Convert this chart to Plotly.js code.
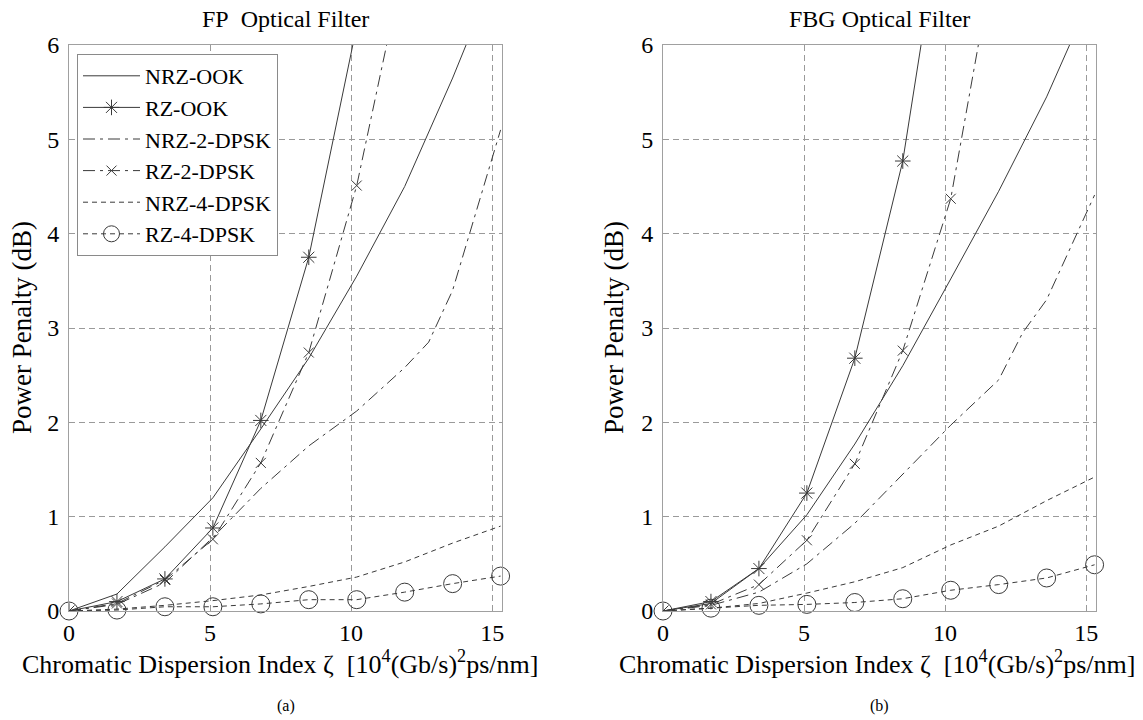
<!DOCTYPE html>
<html>
<head>
<meta charset="utf-8">
<script src="https://cdn.plot.ly/plotly-3.0.1.min.js"></script>
<style>
html,body{margin:0;padding:0;background:#fff;}
#chart{width:1143px;height:720px;}
</style>
</head>
<body>
<div id="chart"></div>
<script>
// ---- data ----
const seriesNames = ["NRZ-OOK", "RZ-OOK", "NRZ-2-DPSK", "RZ-2-DPSK", "NRZ-4-DPSK", "RZ-4-DPSK"];
const xFull = [0, 1.7, 3.4, 5.1, 6.8, 8.5, 10.2, 11.9, 13.6, 15.3];
const xRzOok = [0, 1.7, 3.4, 5.1, 6.8, 8.5, 10.2];
const xRz2 = [0, 1.7, 3.4, 5.1, 6.8, 8.5, 10.2, 11.9];
const xNrz2 = [0, 1.7, 3.4, 5.1, 6.8, 8.5, 10.2, 11.9, 12.75, 13.6, 15.3];

// (a) FP optical filter
const fpNrzOok   = [0, 0.18, 0.68, 1.2, 1.93, 2.68, 3.55, 4.5, 5.65, 6.9];
const fpRzOok    = [0, 0.1, 0.34, 0.88, 2.02, 3.75, 6.2];
const fpNrz2Dpsk = [0, 0.07, 0.3, 0.78, 1.3, 1.75, 2.12, 2.58, 2.85, 3.4, 5.1];
const fpRz2Dpsk  = [0, 0.08, 0.33, 0.76, 1.57, 2.74, 4.51, 6.9];
const fpNrz4Dpsk = [0, 0.02, 0.06, 0.11, 0.17, 0.26, 0.36, 0.52, 0.72, 0.9];
const fpRz4Dpsk  = [0, 0.01, 0.045, 0.045, 0.075, 0.12, 0.12, 0.2, 0.29, 0.37];

// (b) FBG optical filter
const fbgNrzOok   = [0, 0.08, 0.45, 1.02, 1.77, 2.6, 3.52, 4.45, 5.45, 6.6];
const fbgRzOok    = [0, 0.1, 0.45, 1.25, 2.68, 4.77, 8.0];
const fbgNrz2Dpsk = [0, 0.06, 0.2, 0.5, 0.93, 1.45, 1.97, 2.45, 2.95, 3.3, 4.41];
const fbgRz2Dpsk  = [0, 0.07, 0.28, 0.75, 1.56, 2.76, 4.37, 7.2];
const fbgNrz4Dpsk = [0, 0.03, 0.08, 0.19, 0.31, 0.46, 0.7, 0.9, 1.17, 1.42];
const fbgRz4Dpsk  = [0, 0.03, 0.06, 0.07, 0.09, 0.13, 0.22, 0.28, 0.35, 0.49];

const xTicks = [0, 5, 10, 15];
const yTicks = [0, 1, 2, 3, 4, 5, 6];
const panelTitles = ["FP\u00a0 Optical Filter", "FBG Optical Filter"];
const captions = ["(a)", "(b)"];
const xTitleText = "Chromatic Dispersion Index \u03b6 \u00a0[10<sup>4</sup>(Gb/s)<sup>2</sup>ps/nm]";
const yTitleText = "Power Penalty (dB)";

// ---- styles ----
const FONT = "Times New Roman";
const LC = "#3a3a3a";
const dashDot = "12px,5px,3px,5px";
const dashShort = "5px,4px";
const styles = [
  {dash: "solid", mode: "lines"},
  {dash: "solid", mode: "lines+markers", marker: {symbol: "asterisk-open", size: 13, color: LC, line: {width: 1, color: LC}}},
  {dash: dashDot, mode: "lines"},
  {dash: dashDot, mode: "lines+markers", marker: {symbol: "x-thin-open", size: 10, color: LC, line: {width: 1, color: LC}}},
  {dash: dashShort, mode: "lines"},
  {dash: dashShort, mode: "lines+markers", marker: {symbol: "circle-open", size: 18, color: LC, line: {width: 1, color: LC}}, clip: false}
];

function makeTraces(xs, ys, xa, ya, showLeg) {
  return ys.map((y, i) => {
    const s = styles[i];
    const t = {
      x: xs[i], y: y, name: seriesNames[i], type: "scatter", mode: s.mode,
      xaxis: xa, yaxis: ya, showlegend: showLeg, legendgroup: seriesNames[i],
      line: {color: LC, width: 1, dash: s.dash}
    };
    if (s.marker) t.marker = s.marker;
    if (s.clip === false) t.cliponaxis = false;
    return t;
  });
}

const xsAll = [xFull, xRzOok, xNrz2, xRz2, xFull, xFull];
const traces = [].concat(
  makeTraces(xsAll, [fpNrzOok, fpRzOok, fpNrz2Dpsk, fpRz2Dpsk, fpNrz4Dpsk, fpRz4Dpsk], "x", "y", true),
  makeTraces(xsAll, [fbgNrzOok, fbgRzOok, fbgNrz2Dpsk, fbgRz2Dpsk, fbgNrz4Dpsk, fbgRz4Dpsk], "x2", "y2", false)
);

// layout geometry (pixels -> paper)
const L = 69, R = 47, T = 45, B = 109;
const PW = 1143 - L - R, PH = 720 - T - B;
const px = v => (v - L) / PW;
const py = v => (720 - B - v) / PH;

function xAxis(domain, anchor) {
  return {
    domain: domain, anchor: anchor, range: [0, 15.35], tickvals: xTicks, ticktext: xTicks.map(String),
    showgrid: true, gridcolor: "#9a9a9a", griddash: "6px,4px", gridwidth: 1,
    zeroline: false, showline: true, linecolor: "#a0a0a0", linewidth: 1, mirror: true,
    ticks: "", tickfont: {family: FONT, size: 24, color: "#000"}, fixedrange: true
  };
}
function yAxis(anchor) {
  return {
    domain: [0, 1], anchor: anchor, range: [0, 6], tickvals: yTicks, ticktext: yTicks.map(String),
    showgrid: true, gridcolor: "#9a9a9a", griddash: "6px,4px", gridwidth: 1,
    zeroline: false, showline: true, linecolor: "#a0a0a0", linewidth: 1, mirror: true,
    ticks: "", tickfont: {family: FONT, size: 24, color: "#000"}, ticklabelstandoff: 4, fixedrange: true
  };
}

const d1 = [0, px(502)], d2 = [px(663), 1];

const ann = [];
const centers = [(L + 502) / 2, (663 + 1096) / 2];
const xTitleCenters = [280, 877];
centers.forEach((c, i) => {
  ann.push({text: panelTitles[i], x: px(c), y: py(19), xref: "paper", yref: "paper", showarrow: false,
    xanchor: "center", yanchor: "middle", font: {family: FONT, size: 24, color: "#000"}});
  ann.push({text: xTitleText, x: px(xTitleCenters[i]), y: py(662), xref: "paper", yref: "paper", showarrow: false,
    xanchor: "center", yanchor: "middle", font: {family: FONT, size: 26, color: "#000"}});
  ann.push({text: captions[i], x: px(c), y: py(706), xref: "paper", yref: "paper", showarrow: false,
    xanchor: "center", yanchor: "middle", font: {family: FONT, size: 16, color: "#000"}});
  ann.push({text: yTitleText, x: px(i === 0 ? 22 : 614), y: 0.5, xref: "paper", yref: "paper", showarrow: false,
    textangle: -90, xanchor: "center", yanchor: "middle", font: {family: FONT, size: 27, color: "#000"}});
});

const layout = {
  width: 1143, height: 720,
  margin: {l: L, r: R, t: T, b: B, pad: 0},
  paper_bgcolor: "#fff", plot_bgcolor: "#fff",
  font: {family: FONT, color: "#000"},
  xaxis: xAxis(d1, "y"), yaxis: yAxis("x"),
  xaxis2: xAxis(d2, "y2"), yaxis2: yAxis("x2"),
  showlegend: true,
  legend: {
    x: px(77), y: py(54), xanchor: "left", yanchor: "top",
    bgcolor: "#fff", bordercolor: "#8a8a8a", borderwidth: 1,
    font: {family: FONT, size: 22, color: "#000"},
    itemwidth: 57, tracegroupgap: 0, itemclick: false, itemdoubleclick: false
  },
  annotations: ann
};

Plotly.newPlot("chart", traces, layout, {displayModeBar: false, staticPlot: true});
</script>
</body>
</html>
